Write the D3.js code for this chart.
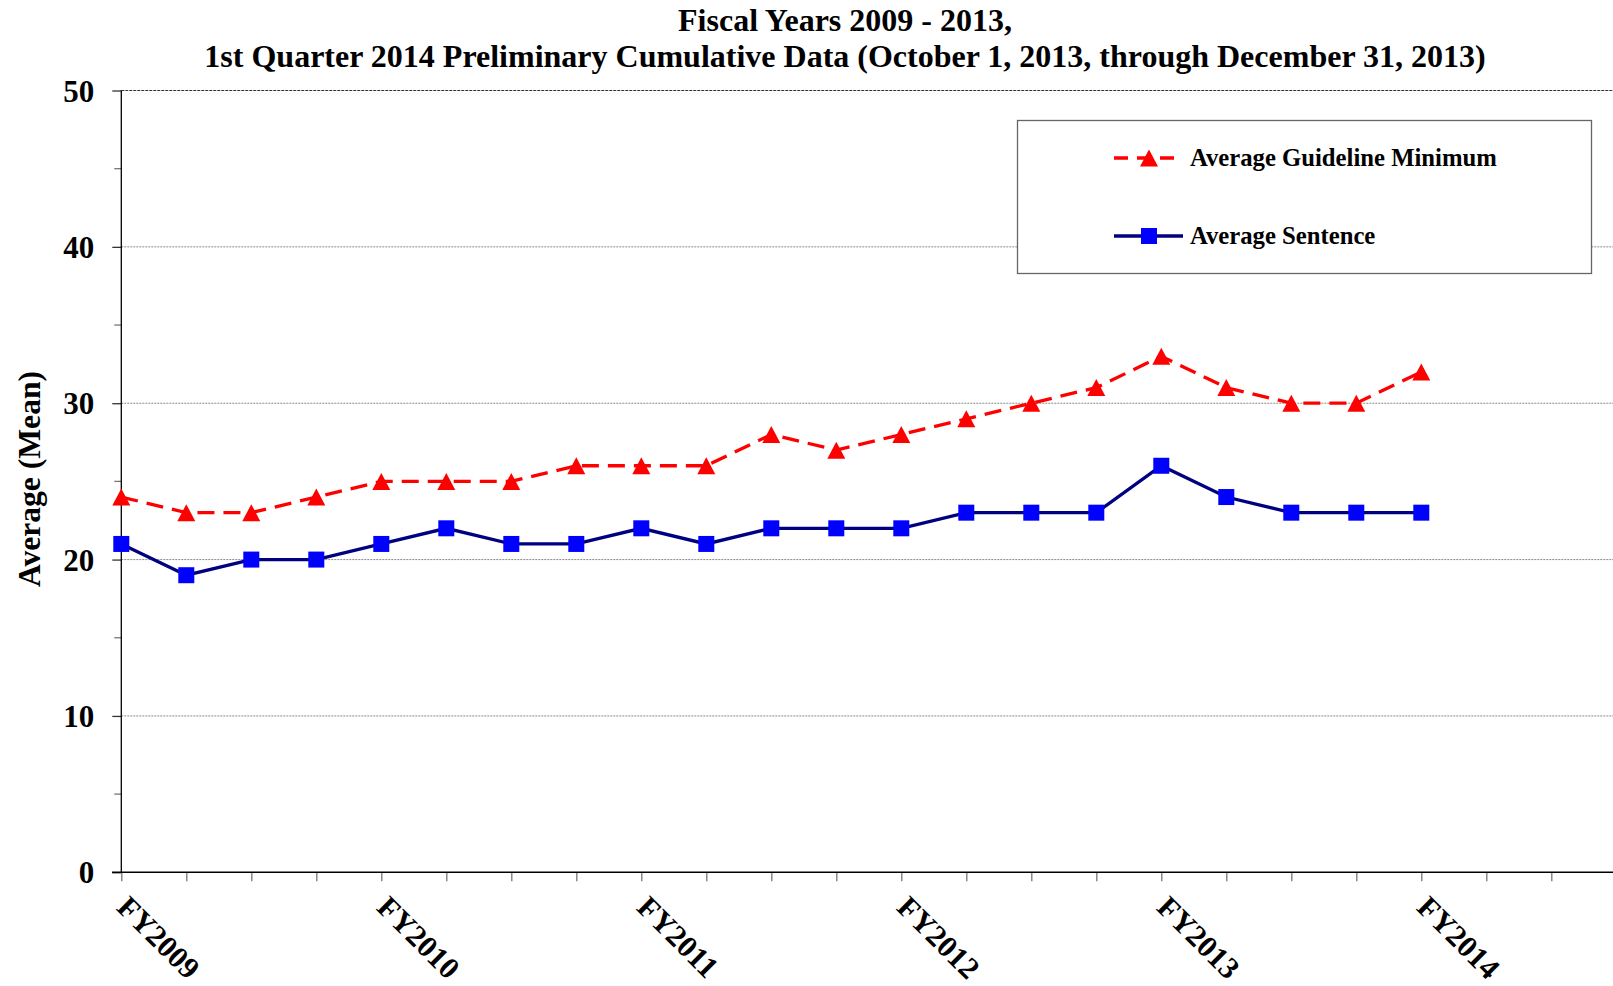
<!DOCTYPE html>
<html>
<head>
<meta charset="utf-8">
<script src="https://cdn.jsdelivr.net/npm/d3@7"></script>
<style>
  html, body { margin: 0; padding: 0; background: #fff; }
  svg { display: block; }
  text { font-family: "Liberation Serif", "Times New Roman", serif; font-weight: bold; fill: #000; }
</style>
</head>
<body>
<svg id="chart" width="1613" height="986"></svg>
<script>
// ---- data ----
const quarterIndex = d3.range(0, 21);
const guidelineMinimum = [24, 23, 23, 24, 25, 25, 25, 26, 26, 26, 28, 27, 28, 29, 30, 31, 33, 31, 30, 30, 32];
const averageSentence  = [21, 19, 20, 20, 21, 22, 21, 21, 22, 21, 22, 22, 22, 23, 23, 23, 26, 24, 23, 23, 23];
const fyLabels = ["FY2009", "FY2010", "FY2011", "FY2012", "FY2013", "FY2014"];
const fyLabelIndex = [0, 4, 8, 12, 16, 20];
const yMajorTicks = [0, 10, 20, 30, 40, 50];
const yMinorTicks = [5, 15, 25, 35, 45];
const xTickIndex = d3.range(0, 23);
const titleLines = ["Fiscal Years 2009 - 2013,", "1st Quarter 2014 Preliminary Cumulative Data (October 1, 2013, through December 31, 2013)"];
const seriesNames = ["Average Guideline Minimum", "Average Sentence"];
const yAxisTitle = "Average (Mean)";

// ---- layout ----
const W = 1613, H = 986;
const x0 = 121.3, step = 65;
const x = d3.scaleLinear().domain([0, 23]).range([x0, x0 + step * 23]);
const y = d3.scaleLinear().domain([0, 50]).range([872.3, 90.5]);

const svg = d3.select("#chart");
svg.append("rect").attr("width", W).attr("height", H).attr("fill", "#fff");

// title
svg.selectAll("text.title").data(titleLines).enter().append("text")
  .attr("class", "title")
  .attr("x", 845).attr("y", (d, i) => 31 + i * 36)
  .attr("text-anchor", "middle")
  .style("font-size", "32px")
  .text(d => d);

// gridlines
svg.append("g").selectAll("line").data([10, 20, 30, 40]).enter().append("line")
  .attr("x1", x0).attr("x2", W)
  .attr("y1", d => y(d)).attr("y2", d => y(d))
  .attr("stroke", "#8a8a8a").attr("stroke-width", 1).attr("stroke-dasharray", "2,1");
svg.append("line")
  .attr("x1", x0).attr("x2", W).attr("y1", y(50)).attr("y2", y(50))
  .attr("stroke", "#333").attr("stroke-width", 1.2).attr("stroke-dasharray", "3,1");

// y minor ticks
svg.append("g").selectAll("line").data(yMinorTicks).enter().append("line")
  .attr("x1", x0 - 7).attr("x2", x0)
  .attr("y1", d => y(d)).attr("y2", d => y(d))
  .attr("stroke", "#777").attr("stroke-width", 1.3);

// y axis
const yAxis = d3.axisLeft(y).tickValues(yMajorTicks).tickSize(9).tickPadding(18).tickFormat(d3.format("d"));
const gy = svg.append("g").attr("transform", `translate(${x0},0)`).call(yAxis);
gy.select(".domain").remove();
gy.append("line").attr("x1", 0).attr("x2", 0).attr("y1", y(50)).attr("y2", y(0)).attr("stroke", "#000").attr("stroke-width", 1.3);
gy.selectAll(".tick line").attr("stroke", "#333").attr("stroke-width", 1.3);
gy.selectAll(".tick text")
  .style("font-family", "\"Liberation Serif\", \"Times New Roman\", serif")
  .style("font-weight", "bold").style("font-size", "31px").attr("fill", "#000")
  .attr("x", -27).attr("dy", "0.34em");

// x axis
const xAxis = d3.axisBottom(x).tickValues(xTickIndex).tickSize(9).tickFormat(() => "");
const gx = svg.append("g").attr("transform", `translate(0,${y(0)})`).call(xAxis);
gx.select(".domain").remove();
gx.selectAll(".tick line").attr("stroke", "#777").attr("stroke-width", 1.3);
svg.append("line").attr("x1", 112).attr("x2", W).attr("y1", y(0)).attr("y2", y(0)).attr("stroke", "#000").attr("stroke-width", 1.5);

// FY labels
svg.append("g").selectAll("text").data(fyLabels).enter().append("text")
  .attr("transform", (d, i) => `translate(${x(fyLabelIndex[i]) - 6},${909}) rotate(45)`)
  .attr("text-anchor", "start")
  .style("font-size", "30.5px")
  .text(d => d);

// y axis title
svg.append("text")
  .attr("transform", `translate(40,${479}) rotate(-90)`)
  .attr("text-anchor", "middle")
  .style("font-size", "31.6px")
  .text(yAxisTitle);

// lines
const lineGen = d3.line().x((d, i) => x(quarterIndex[i])).y(d => y(d));
svg.append("path").datum(averageSentence)
  .attr("d", lineGen).attr("fill", "none").attr("stroke", "#000080").attr("stroke-width", 3.3);
svg.append("path").datum(guidelineMinimum)
  .attr("d", lineGen).attr("fill", "none").attr("stroke", "#ff0000").attr("stroke-width", 3.3)
  .attr("stroke-dasharray", "17,9");

// markers
const triPath = "M0,-8.5L9,8.5L-9,8.5Z";
svg.append("g").selectAll("path").data(guidelineMinimum).enter().append("path")
  .attr("d", triPath)
  .attr("transform", (d, i) => `translate(${x(quarterIndex[i])},${y(d)})`)
  .attr("fill", "#ff0000");
svg.append("g").selectAll("rect").data(averageSentence).enter().append("rect")
  .attr("x", (d, i) => x(quarterIndex[i]) - 8).attr("y", d => y(d) - 8)
  .attr("width", 16).attr("height", 16)
  .attr("fill", "#0000ff");

// legend
const lg = svg.append("g");
lg.append("rect").attr("x", 1017.5).attr("y", 120.5).attr("width", 574).attr("height", 153)
  .attr("fill", "#fff").attr("stroke", "#666").attr("stroke-width", 1.3);
const legendY = [158, 236];
lg.append("line").attr("x1", 1114).attr("x2", 1183).attr("y1", legendY[0]).attr("y2", legendY[0])
  .attr("stroke", "#ff0000").attr("stroke-width", 3.3).attr("stroke-dasharray", "14,9");
lg.append("path").attr("d", triPath).attr("transform", `translate(1149,${legendY[0]})`).attr("fill", "#ff0000");
lg.append("line").attr("x1", 1114).attr("x2", 1183).attr("y1", legendY[1]).attr("y2", legendY[1])
  .attr("stroke", "#000080").attr("stroke-width", 3.3);
lg.append("rect").attr("x", 1149 - 8).attr("y", legendY[1] - 8).attr("width", 16).attr("height", 16).attr("fill", "#0000ff");
lg.selectAll("text").data(seriesNames).enter().append("text")
  .attr("x", 1190).attr("y", (d, i) => legendY[i]).attr("dy", "0.34em")
  .style("font-size", "24.7px")
  .text(d => d);
</script>
</body>
</html>
